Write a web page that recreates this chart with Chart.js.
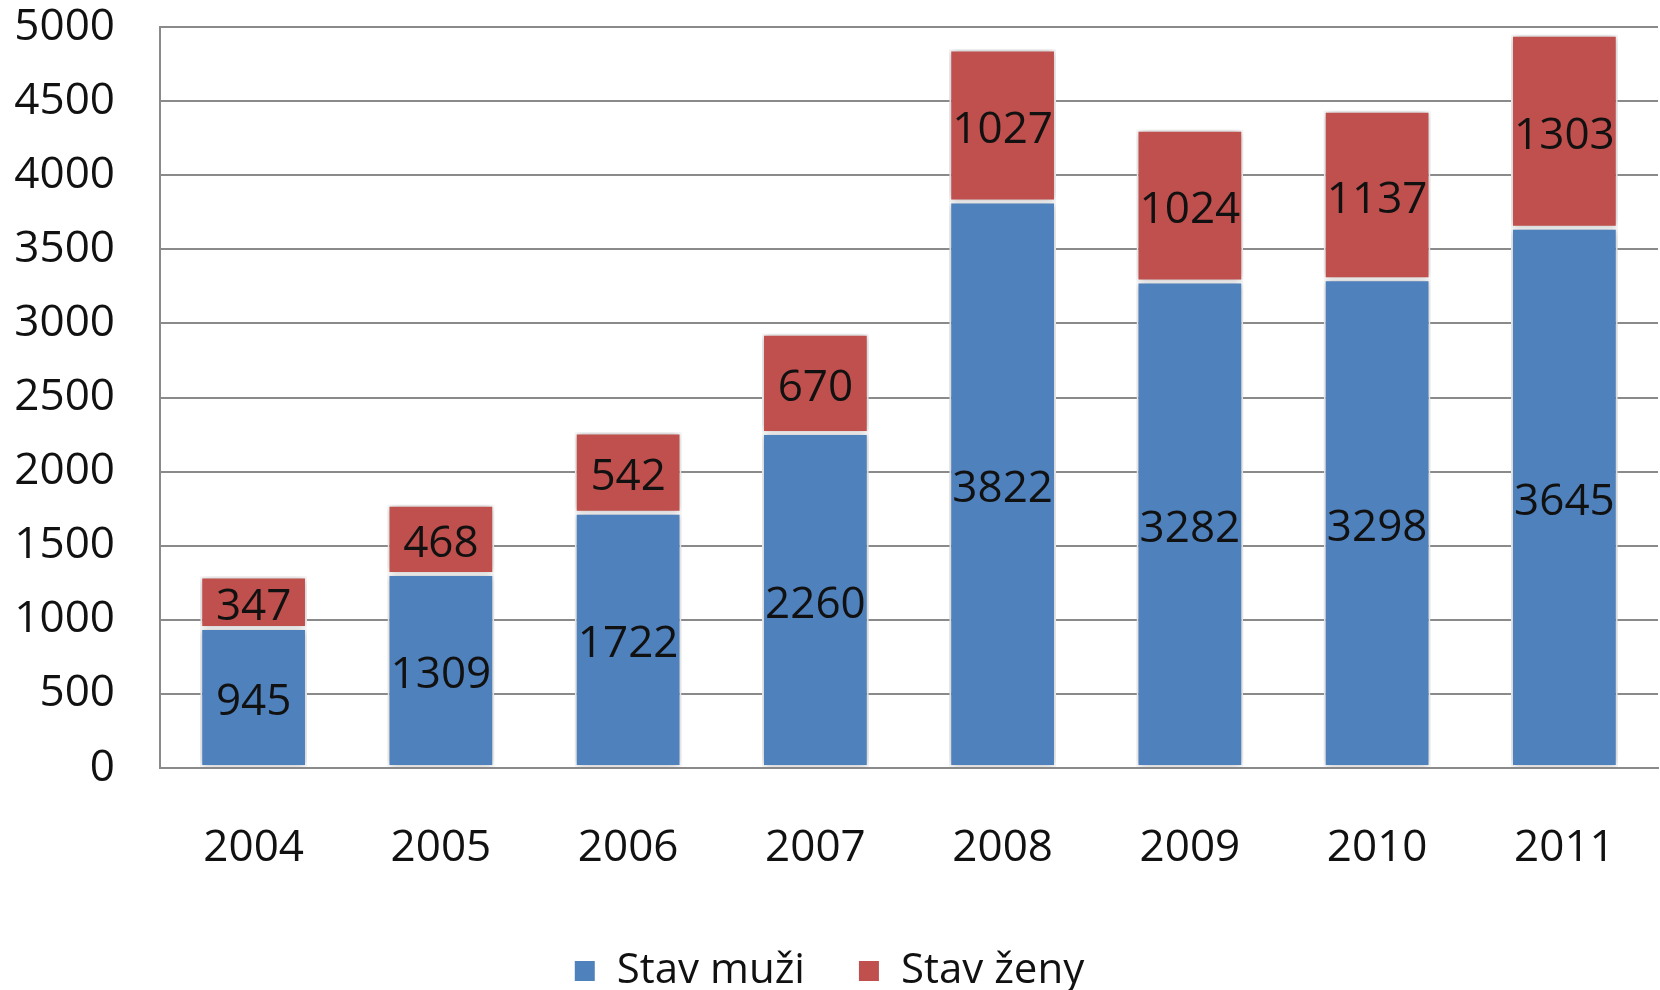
<!DOCTYPE html>
<html>
<head>
<meta charset="utf-8">
<script src="https://cdn.jsdelivr.net/npm/chart.js@4"></script>
<style>
  html, body { margin: 0; padding: 0; background: #fff; }
  #wrap { width: 1660px; height: 990px; }
</style>
</head>
<body>
<div id="wrap"><canvas id="chart" width="1660" height="990"></canvas></div>
<script>
const years = ["2004", "2005", "2006", "2007", "2008", "2009", "2010", "2011"];
const muzi = [945, 1309, 1722, 2260, 3822, 3282, 3298, 3645];
const zeny = [347, 468, 542, 670, 1027, 1024, 1137, 1303];
const yTicks = [0, 500, 1000, 1500, 2000, 2500, 3000, 3500, 4000, 4500, 5000];

const FONT = "'Open Sans', sans-serif";

// soft shadow round the bars, like the office chart
const barShadow = {
  id: 'barShadow',
  beforeDatasetsDraw(chart) {
    const ctx = chart.ctx;
    ctx.save();
    ctx.shadowColor = 'rgba(0,0,0,0.3)';
    ctx.shadowBlur = 8;
  },
  afterDatasetsDraw(chart) {
    chart.ctx.restore();
  }
};

// value in the middle of each segment
const segmentLabels = {
  id: 'segmentLabels',
  afterDatasetsDraw(chart) {
    const ctx = chart.ctx;
    ctx.save();
    ctx.font = "44px " + FONT;
    ctx.fillStyle = '#111';
    ctx.textAlign = 'center';
    ctx.textBaseline = 'middle';
    chart.data.datasets.forEach((ds, i) => {
      chart.getDatasetMeta(i).data.forEach((bar, j) => {
        const mid = (bar.y + bar.base) / 2 + 5;
        ctx.fillText(String(ds.data[j]), bar.x, mid);
      });
    });
    ctx.restore();
  }
};

// legend sits lower with less room under it
const legendHeight = {
  id: 'legendHeight',
  beforeInit(chart) {
    const fit = chart.legend.fit;
    chart.legend.fit = function () {
      fit.bind(chart.legend)();
      this.height = 93;
    };
  }
};

function renderChart() {
  const ctx = document.getElementById("chart").getContext("2d");
  new Chart(ctx, {
    type: 'bar',
    data: {
      labels: years,
      datasets: [
        { label: 'Stav muži', data: muzi, backgroundColor: '#4F81BD', borderColor: '#fff', borderWidth: 2, borderSkipped: false },
        { label: 'Stav ženy', data: zeny, backgroundColor: '#C0504D', borderColor: '#fff', borderWidth: 2, borderSkipped: false }
      ]
    },
    options: {
      responsive: false,
      animation: false,
      devicePixelRatio: 1,
      categoryPercentage: 1,
      barPercentage: 0.57,
      layout: { padding: { left: 0, right: 2, top: 0, bottom: 0 } },
      plugins: {
        legend: {
          position: 'bottom',
          labels: {
            font: { family: FONT, size: 42 },
            color: '#111',
            boxWidth: 22,
            boxHeight: 22,
            padding: 53
          }
        },
        tooltip: { enabled: false }
      },
      scales: {
        x: {
          stacked: true,
          grid: { display: false },
          border: { display: true, color: '#8a8a8a', width: 2 },
          ticks: { font: { family: FONT, size: 44 }, color: '#111', padding: 46 },
          afterFit(scale) {
            scale.height = 129;
            scale.paddingLeft = 0;
            scale.paddingRight = 0;
          }
        },
        y: {
          stacked: true,
          min: 0,
          max: 5000,
          afterBuildTicks(scale) { scale.ticks = yTicks.map(v => ({ value: v })); },
          grid: { color: '#8a8a8a', lineWidth: 2, drawTicks: false },
          border: { display: true, color: '#8a8a8a', width: 2 },
          ticks: {
            font: { family: FONT, size: 44 },
            color: '#111',
            padding: 45,
            callback: v => String(v)
          },
          afterFit(scale) {
            scale.width = 160;
            scale.paddingTop = 27;
            scale.paddingBottom = 0;
          }
        }
      }
    },
    plugins: [barShadow, segmentLabels, legendHeight]
  });
}

window.addEventListener("DOMContentLoaded", renderChart);
</script>
</body>
</html>
